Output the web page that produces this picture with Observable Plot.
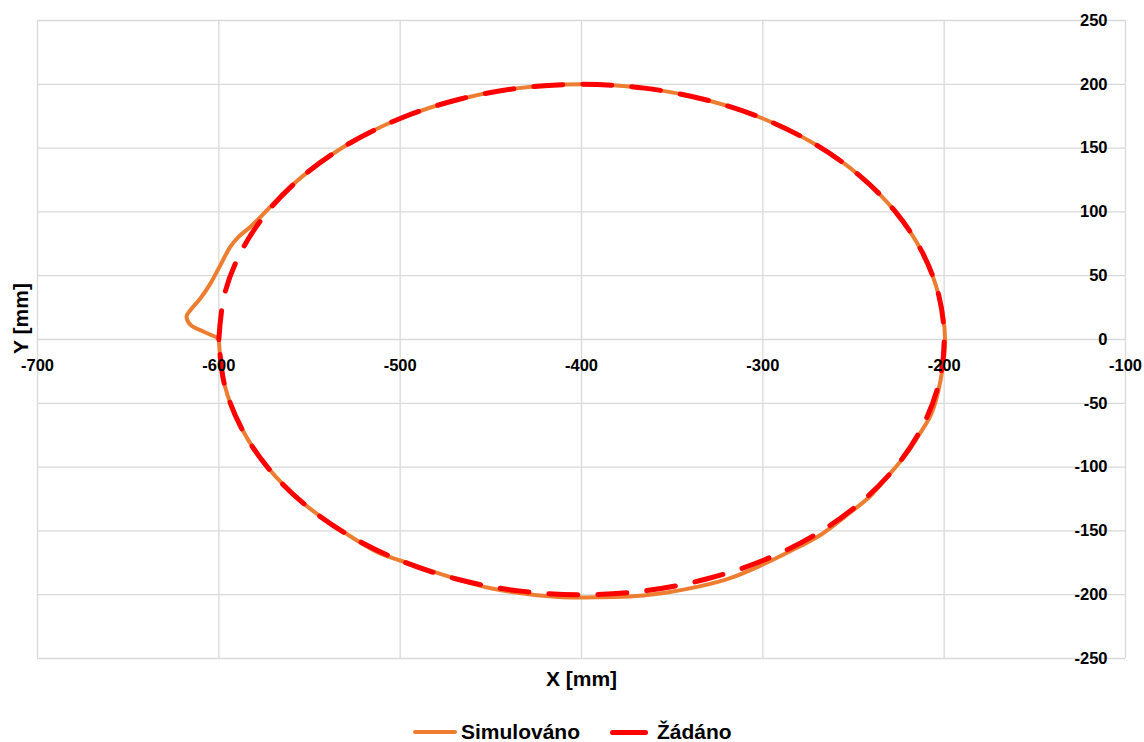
<!DOCTYPE html>
<html><head><meta charset="utf-8">
<script src="https://cdn.jsdelivr.net/npm/d3@7"></script>
<script src="https://cdn.jsdelivr.net/npm/@observablehq/plot@0.6"></script>
<style>
html,body{margin:0;padding:0;background:#fff;}
body{font-family:"Liberation Sans",Arial,sans-serif;width:1144px;height:742px;overflow:hidden;}
#chart svg{display:block;}
.legend{position:relative;height:42px;width:1144px;}
.legend .sw{position:absolute;border-radius:3px;}
.legend .lb{position:absolute;font-size:21px;font-weight:bold;color:#000;line-height:24px;top:20px;white-space:nowrap;}
</style></head><body>
<div id="chart"></div>
<div class="legend" id="legend"></div>
<script>
const xTicks = [-700, -600, -500, -400, -300, -200, -100];
const yTicks = [-250, -200, -150, -100, -50, 0, 50, 100, 150, 200, 250];
const seriesNames = ["Simulováno", "Žádáno"];
const seriesColors = ["#ED7D31", "#FF0000"];

// Simulováno (simulated path)
const simX = [-600.0,-608.3,-615.6,-617.8,-615.6,-610.1,-604.6,-599.1,-593.6,-589.0,-582.5,-573.3,-564.2,-553.2,-528.6,-500.0,-468.4,-434.7,-400.0,-365.3,-331.6,-300.0,-271.4,-246.8,-226.8,-212.1,-203.0,-199.5,-202.0,-207.0,-214.0,-221.0,-231.0,-241.0,-254.0,-268.0,-285.0,-301.0,-318.0,-335.0,-352.0,-370.0,-390.0,-410.0,-430.0,-450.0,-468.4,-486.0,-500.0,-512.0,-528.6,-553.2,-573.2,-587.9,-597.0,-600.0];
const simY = [0.9,6.1,11.4,17.9,23.1,32.3,44.0,58.4,72.7,80.6,88.4,101.5,114.6,128.6,153.2,173.2,187.9,197.0,200.0,197.0,187.9,173.2,153.2,128.6,100.0,68.4,34.7,0.0,-32.0,-58.0,-75.0,-90.0,-107.0,-123.0,-138.0,-153.0,-166.0,-177.0,-187.0,-193.5,-198.0,-201.0,-202.0,-202.0,-199.5,-195.0,-187.9,-180.0,-173.2,-167.0,-153.2,-128.6,-100.0,-68.4,-34.7,0.0];

// Žádáno (requested path)
const refX = [-600.0,-597.0,-587.9,-573.2,-553.2,-528.6,-500.0,-468.4,-434.7,-400.0,-365.3,-331.6,-300.0,-271.4,-246.8,-226.8,-212.1,-203.0,-200.0,-203.0,-212.1,-226.8,-246.8,-271.4,-300.0,-331.6,-365.3,-400.0,-434.7,-468.4,-500.0,-528.6,-553.2,-573.2,-587.9,-597.0,-600.0];
const refY = [0.0,34.7,68.4,100.0,128.6,153.2,173.2,187.9,197.0,200.0,197.0,187.9,173.2,153.2,128.6,100.0,68.4,34.7,0.0,-34.7,-68.4,-100.0,-128.6,-153.2,-173.2,-187.9,-197.0,-200.0,-197.0,-187.9,-173.2,-153.2,-128.6,-100.0,-68.4,-34.7,0.0];

const sim = simX.map((x, i) => ({x, y: simY[i]}));
const ref = refX.map((x, i) => ({x, y: refY[i]}));

const font = "Liberation Sans, Arial, sans-serif";
const textColor = "#000";

const chart = Plot.plot({
  width: 1144,
  height: 700,
  marginTop: 20,
  marginRight: 19,
  marginBottom: 42,
  marginLeft: 37,
  style: {fontFamily: font, background: "#fff", overflow: "visible"},
  x: {domain: [-700, -100], axis: null},
  y: {domain: [-250, 250], axis: null},
  marks: [
    Plot.ruleX(xTicks, {x: d => d, stroke: "#d9d9d9", strokeWidth: 1.3}),
    Plot.ruleY(yTicks, {y: d => d, stroke: "#d9d9d9", strokeWidth: 1.3}),
    Plot.line(sim, {x: "x", y: "y", stroke: seriesColors[0], strokeWidth: 4, curve: "catmull-rom", strokeLinecap: "round", strokeLinejoin: "round"}),
    Plot.line(ref, {x: "x", y: "y", stroke: seriesColors[1], strokeWidth: 5, curve: "catmull-rom", strokeDasharray: "29,20", strokeLinecap: "round", strokeLinejoin: "round"}),
    Plot.text(xTicks, {x: d => d, y: 0, dy: 26, text: d => String(d), fontSize: 16.5, fontWeight: "bold", fill: textColor, textAnchor: "middle"}),
    Plot.text(yTicks, {x: -100, y: d => d, dx: -18, text: d => String(d), fontSize: 16.5, fontWeight: "bold", fill: textColor, textAnchor: "end"}),
    Plot.text(["X [mm]"], {x: -400, y: -250, dy: 21, text: d => d, fontSize: 21, fontWeight: "bold", fill: textColor, textAnchor: "middle"}),
    Plot.text(["Y [mm]"], {x: -700, y: 0, dx: -16, dy: -21, rotate: -90, text: d => d, fontSize: 21, fontWeight: "bold", fill: textColor, textAnchor: "middle"})
  ]
});
document.getElementById("chart").appendChild(chart);

// legend below the chart
const legend = document.getElementById("legend");
const items = [
  {name: seriesNames[0], color: seriesColors[0], swLeft: 413, swWidth: 44, swH: 4, lbLeft: 461},
  {name: seriesNames[1], color: seriesColors[1], swLeft: 610, swWidth: 38, swH: 5, lbLeft: 657}
];
for (const it of items) {
  const sw = document.createElement("div");
  sw.className = "sw";
  sw.style.left = it.swLeft + "px";
  sw.style.width = it.swWidth + "px";
  sw.style.height = it.swH + "px";
  sw.style.top = (32 - it.swH / 2) + "px";
  sw.style.background = it.color;
  legend.appendChild(sw);
  const lb = document.createElement("div");
  lb.className = "lb";
  lb.style.left = it.lbLeft + "px";
  lb.textContent = it.name;
  legend.appendChild(lb);
}
</script>
</body></html>
